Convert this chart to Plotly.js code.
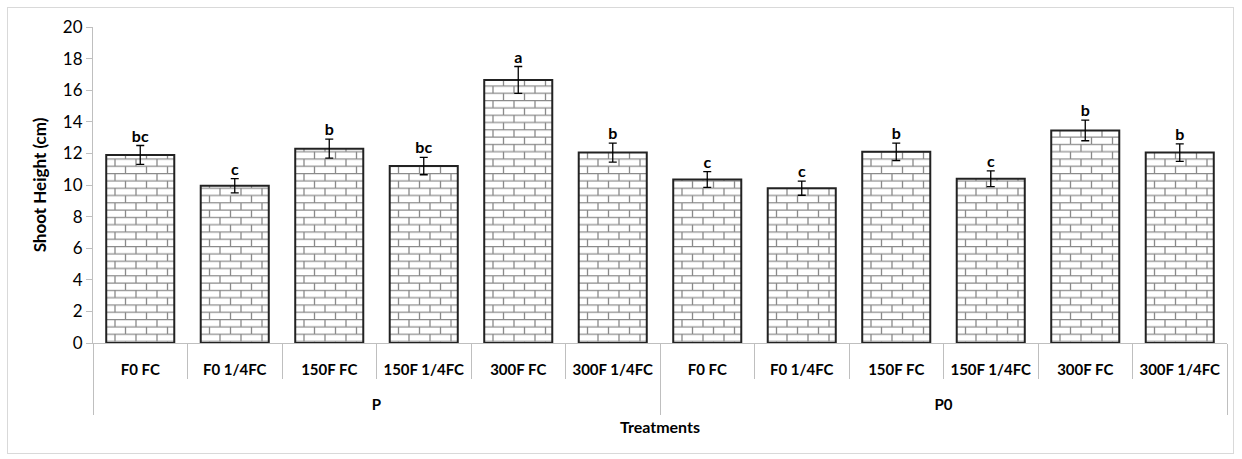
<!DOCTYPE html>
<html>
<head>
<meta charset="utf-8">
<script src="https://cdn.plot.ly/plotly-3.0.1.min.js"></script>
<style>
html,body{margin:0;padding:0;background:#fff;}
#frame{position:absolute;left:7px;top:7px;width:1227px;height:447px;border:1px solid #d9d9d9;box-sizing:border-box;pointer-events:none;z-index:5;}
#chart{position:absolute;left:0;top:0;width:1242px;height:459px;}
</style>
</head>
<body>
<div id="chart"></div>
<div id="frame"></div>
<script>
const groups = ["P","P","P","P","P","P","P0","P0","P0","P0","P0","P0"];
const treatments = ["F0 FC","F0 1/4FC","150F FC","150F 1/4FC","300F FC","300F 1/4FC",
                    "F0 FC","F0 1/4FC","150F FC","150F 1/4FC","300F FC","300F 1/4FC"];
const shootHeight = [11.9, 9.95, 12.3, 11.2, 16.65, 12.05, 10.35, 9.8, 12.1, 10.4, 13.45, 12.05];
const stdError   = [0.6, 0.45, 0.6, 0.55, 0.85, 0.6, 0.5, 0.45, 0.55, 0.5, 0.65, 0.55];
const letters    = ["bc","c","b","bc","a","b","c","c","b","c","b","b"];

const FONT = "Lato, 'Open Sans', sans-serif";

// category positions (one slot per bar)
const pos = treatments.map((_, i) => i);
const range = [-0.5, treatments.length - 0.5];
// group centres and boundaries, derived from the group list
const groupNames = [...new Set(groups)];
const groupCenters = groupNames.map(g => {
  const idx = pos.filter(i => groups[i] === g);
  return (idx[0] + idx[idx.length - 1]) / 2;
});
const groupBounds = [-0.5].concat(groupNames.map(g => {
  const idx = pos.filter(i => groups[i] === g);
  return idx[idx.length - 1] + 0.5;
}));

const bars = {
  type: "bar",
  x: pos,
  y: shootHeight,
  error_y: {type: "data", array: stdError, visible: true, color: "#000", thickness: 1.3, width: 4},
  marker: {
    color: "#ffffff",
    line: {color: "#222", width: 2},
    pattern: {shape: "+", bgcolor: "#ffffff", fgcolor: "#8a8a8a", size: 8, solidity: 0.2}
  },
  hoverinfo: "y",
  showlegend: false
};

const labels = {
  type: "scatter",
  mode: "text",
  x: pos,
  y: shootHeight.map((v, i) => v + stdError[i]),
  xaxis: "x2",
  text: letters,
  textposition: "top center",
  textfont: {family: FONT, size: 16, color: "#000", weight: "bold"},
  hoverinfo: "skip",
  showlegend: false,
  cliponaxis: false
};

const GRAY = "#bfbfbf";
const layout = {
  width: 1242, height: 459,
  margin: {l: 93, r: 15, t: 27, b: 116},
  paper_bgcolor: "#fff", plot_bgcolor: "#fff",
  bargap: 0.28,
  font: {family: FONT, color: "#000"},
  xaxis: {
    range: range, autorange: false,
    tickmode: "array", tickvals: pos, ticktext: treatments,
    ticks: "", showline: true, linecolor: GRAY, linewidth: 1,
    ticklabelstandoff: 13,
    minor: {tickmode: "linear", tick0: -0.5, dtick: 1, ticks: "outside", ticklen: 35, tickcolor: GRAY, tickwidth: 1, showgrid: false},
    tickfont: {family: FONT, size: 15, color: "#000", weight: "bold"},
    showgrid: false, zeroline: false
  },
  xaxis2: {
    overlaying: "x", anchor: "y", side: "bottom",
    range: range, autorange: false,
    tickmode: "array", tickvals: groupCenters, ticktext: groupNames,
    ticks: "", showline: false,
    ticklabelstandoff: 51,
    minor: {tickmode: "array", tickvals: groupBounds, ticks: "outside", ticklen: 71, tickcolor: GRAY, tickwidth: 1, showgrid: false},
    tickfont: {family: FONT, size: 15, color: "#000", weight: "bold"},
    showgrid: false, zeroline: false,
    title: {text: "Treatments", font: {family: FONT, size: 16, color: "#000", weight: "bold"}, standoff: 9}
  },
  yaxis: {
    range: [0, 20], dtick: 2, tick0: 0,
    showline: true, linecolor: GRAY, linewidth: 1,
    ticks: "outside", ticklen: 6, tickcolor: GRAY,
    showgrid: false, zeroline: false,
    tickfont: {family: FONT, size: 17, color: "#000"},
    title: {text: "Shoot Height (cm)", font: {family: FONT, size: 17, color: "#000", weight: "bold"}, standoff: 11}
  }
};

function brickify(gd) {
  // restyle the fill texture of the bars as a brick wall
  gd.querySelectorAll("pattern").forEach(p => {
    const w = 21, h = 14.6, hh = h / 2;
    p.setAttribute("width", w);
    p.setAttribute("height", h);
    p.setAttribute("viewBox", "0 0 " + w + " " + h);
    p.innerHTML =
      '<rect x="0" y="0" width="' + w + '" height="' + h + '" fill="#ffffff"/>' +
      '<path d="M0,0.6H' + w + 'M0,' + (hh + 0.6) + 'H' + w +
      'M1,0V' + (hh + 0.6) + 'M' + (w / 2 + 1) + ',' + (hh + 0.6) + 'V' + h +
      '" fill="none" stroke="#8a8a8a" stroke-width="1.3"/>';
  });
}

Plotly.newPlot("chart", [bars, labels], layout, {displayModeBar: false, staticPlot: true})
  .then(gd => brickify(gd));
</script>
</body>
</html>
